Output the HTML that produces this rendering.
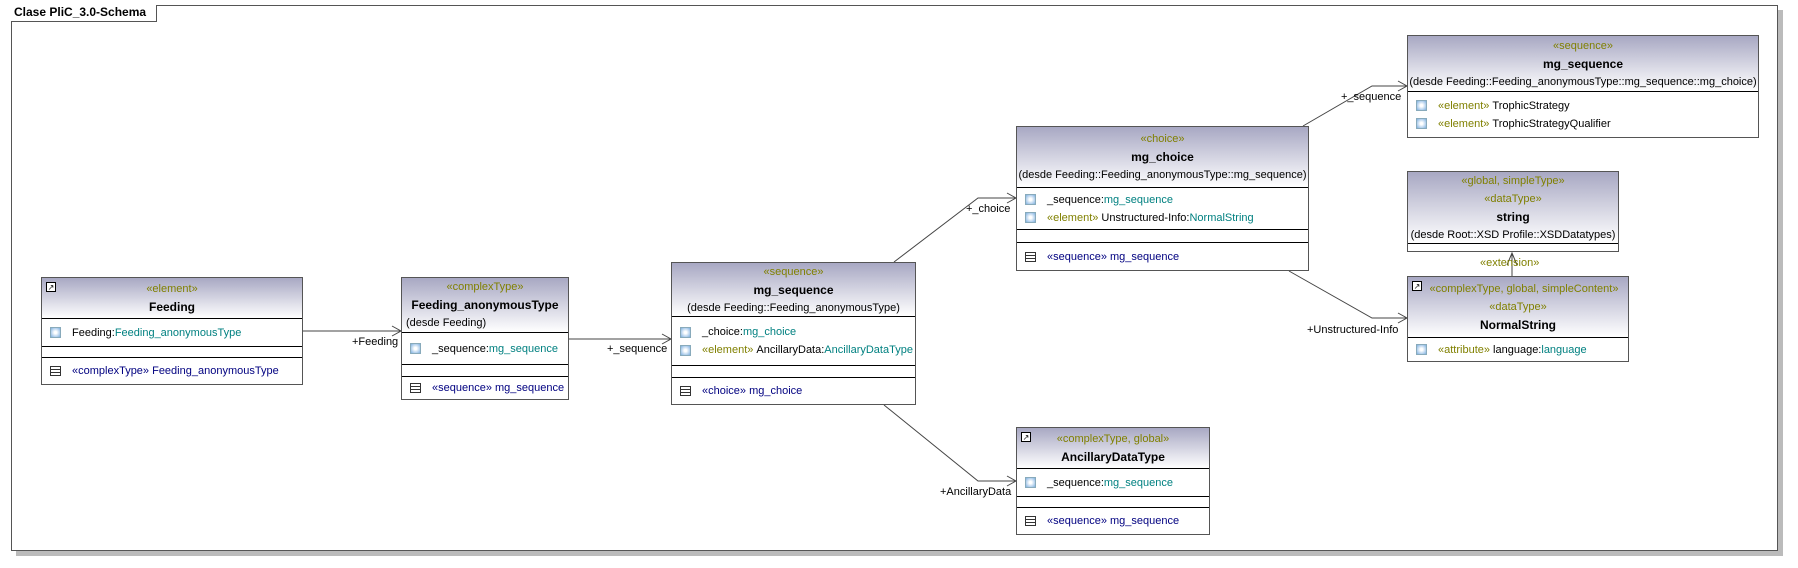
<!DOCTYPE html>
<html><head><meta charset="utf-8"><style>
body{margin:0;width:1798px;height:568px;background:#fff;position:relative;overflow:hidden;font-family:"Liberation Sans",Arial,sans-serif;font-size:11px;color:#000}
.frame{position:absolute;left:11px;top:5px;width:1765px;height:544px;border:1px solid #555;box-shadow:5px 5px 0 #bbb;background:#fff}
.tab{position:absolute;left:11px;top:5px;height:16px;line-height:15px;padding:0 10px 0 3px;font-weight:bold;font-size:12px;border-right:1px solid #555;border-bottom:1px solid #555;background:#fff}
.box{position:absolute;border:1px solid #555;background:#fff;box-sizing:border-box;display:flex;flex-direction:column}
.hd{background:linear-gradient(#a8a8c3,#fff);border-bottom:1px solid #000;display:flex;flex-direction:column;justify-content:center;align-items:center;box-sizing:border-box;position:relative;flex:none}
.hd div{height:18px;line-height:18px;white-space:nowrap}
.st{color:#808000}
.nm{font-weight:bold;font-size:12px}
.cp{border-bottom:1px solid #000;box-sizing:border-box;display:flex;flex-direction:column;justify-content:center;flex:none}
.last{border-bottom:none;flex:1}
.row{height:18px;line-height:18px;padding-left:8px;white-space:nowrap;display:flex;align-items:center}
.ic{display:inline-block;width:11px;height:11px;background:radial-gradient(#fff 20%,#7fb0e0);border:1px solid #8ab;margin-right:11px;box-sizing:border-box}
.op{display:inline-block;width:11px;height:10px;border:1px solid #333;margin-right:11px;box-sizing:border-box;background:linear-gradient(#fff 2px,#333 2px,#333 3px,#fff 3px,#fff 5px,#333 5px,#333 6px,#fff 6px)}
.t{color:#008080}.o{color:#000080}
.lk{position:absolute;left:4px;top:4px;width:10px;height:10px;border:1px solid #000;background:#fff;font-size:8px;line-height:9px;text-align:center;box-sizing:border-box}
.lbl{position:absolute;white-space:nowrap}
</style></head><body>
<div class="frame"></div>
<div class="tab">Clase PliC_3.0-Schema</div>

<svg width="1798" height="568" style="position:absolute;left:0;top:0" fill="none" stroke="#444" stroke-width="1">
<path d="M303 331H401M392 326L401 331L392 336"/>
<path d="M569 339H671M662 334L671 339L662 344"/>
<path d="M894 262L978 198H1016M1007 193L1016 198L1007 203"/>
<path d="M1303 126L1372 86H1407M1398 81L1407 86L1398 91"/>
<path d="M1289 271L1372 318H1407M1398 313L1407 318L1398 323"/>
<path d="M884 405L978 481H1016M1007 476L1016 481L1007 486"/>
<path d="M1512 276V253M1507 265L1512 253L1517 265"/>
</svg>
<div class="lbl" style="left:352px;top:336px">+Feeding</div>
<div class="lbl" style="left:607px;top:343px">+_sequence</div>
<div class="lbl" style="left:966px;top:203px">+_choice</div>
<div class="lbl" style="left:1341px;top:91px">+_sequence</div>
<div class="lbl" style="left:1307px;top:324px">+Unstructured-Info</div>
<div class="lbl" style="left:940px;top:486px">+AncillaryData</div>
<div class="lbl st" style="left:1480px;top:257px">«extension»</div>

<div class="box" style="left:41px;top:277px;width:262px;height:108px">
 <div class="hd" style="height:41px"><span class="lk">↗</span><div class="st">«element»</div><div class="nm">Feeding</div></div>
 <div class="cp" style="height:28px"><div class="row"><span class="ic"></span>Feeding:<span class="t">Feeding_anonymousType</span></div></div>
 <div class="cp" style="height:11px"></div>
 <div class="cp last"><div class="row"><span class="op"></span><span class="o">«complexType» Feeding_anonymousType</span></div></div>
</div>

<div class="box" style="left:401px;top:277px;width:168px;height:123px">
 <div class="hd" style="height:55px"><div class="st">«complexType»</div><div class="nm">Feeding_anonymousType</div><div style="align-self:flex-start;padding-left:4px">(desde Feeding)</div></div>
 <div class="cp" style="height:32px"><div class="row"><span class="ic"></span>_sequence:<span class="t">mg_sequence</span></div></div>
 <div class="cp" style="height:12px"></div>
 <div class="cp last"><div class="row"><span class="op"></span><span class="o">«sequence» mg_sequence</span></div></div>
</div>

<div class="box" style="left:671px;top:262px;width:245px;height:143px">
 <div class="hd" style="height:54px"><div class="st">«sequence»</div><div class="nm">mg_sequence</div><div>(desde Feeding::Feeding_anonymousType)</div></div>
 <div class="cp" style="height:49px"><div class="row"><span class="ic"></span>_choice:<span class="t">mg_choice</span></div><div class="row"><span class="ic"></span><span class="st">«element»</span>&nbsp;AncillaryData:<span class="t">AncillaryDataType</span></div></div>
 <div class="cp" style="height:12px"></div>
 <div class="cp last"><div class="row"><span class="op"></span><span class="o">«choice» mg_choice</span></div></div>
</div>

<div class="box" style="left:1016px;top:126px;width:293px;height:145px">
 <div class="hd" style="height:61px"><div class="st">«choice»</div><div class="nm">mg_choice</div><div>(desde Feeding::Feeding_anonymousType::mg_sequence)</div></div>
 <div class="cp" style="height:42px"><div class="row"><span class="ic"></span>_sequence:<span class="t">mg_sequence</span></div><div class="row"><span class="ic"></span><span class="st">«element»</span>&nbsp;Unstructured-Info:<span class="t">NormalString</span></div></div>
 <div class="cp" style="height:13px"></div>
 <div class="cp last"><div class="row"><span class="op"></span><span class="o">«sequence» mg_sequence</span></div></div>
</div>

<div class="box" style="left:1407px;top:35px;width:352px;height:103px">
 <div class="hd" style="height:56px"><div class="st">«sequence»</div><div class="nm">mg_sequence</div><div>(desde Feeding::Feeding_anonymousType::mg_sequence::mg_choice)</div></div>
 <div class="cp last"><div class="row"><span class="ic"></span><span class="st">«element»</span>&nbsp;TrophicStrategy</div><div class="row"><span class="ic"></span><span class="st">«element»</span>&nbsp;TrophicStrategyQualifier</div></div>
</div>

<div class="box" style="left:1407px;top:171px;width:212px;height:81px">
 <div class="hd" style="height:72px"><div class="st">«global, simpleType»</div><div class="st">«dataType»</div><div class="nm">string</div><div>(desde Root::XSD Profile::XSDDatatypes)</div></div>
 <div class="cp last"></div>
</div>

<div class="box" style="left:1407px;top:276px;width:222px;height:86px">
 <div class="hd" style="height:61px"><span class="lk">↗</span><div class="st" style="padding-left:12px">«complexType, global, simpleContent»</div><div class="st">«dataType»</div><div class="nm">NormalString</div></div>
 <div class="cp last"><div class="row"><span class="ic"></span><span class="st">«attribute»</span>&nbsp;language:<span class="t">language</span></div></div>
</div>

<div class="box" style="left:1016px;top:427px;width:194px;height:108px">
 <div class="hd" style="height:41px"><span class="lk">↗</span><div class="st">«complexType, global»</div><div class="nm">AncillaryDataType</div></div>
 <div class="cp" style="height:28px"><div class="row"><span class="ic"></span>_sequence:<span class="t">mg_sequence</span></div></div>
 <div class="cp" style="height:11px"></div>
 <div class="cp last"><div class="row"><span class="op"></span><span class="o">«sequence» mg_sequence</span></div></div>
</div>
</body></html>
